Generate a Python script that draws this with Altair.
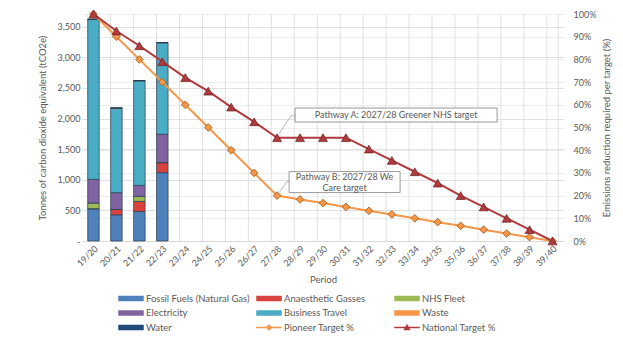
import altair as alt
import pandas as pd

# ---------------- data ----------------
periods = ["19/20", "20/21", "21/22", "22/23", "23/24", "24/25", "25/26", "26/27",
           "27/28", "28/29", "29/30", "30/31", "31/32", "32/33", "33/34", "34/35",
           "35/36", "36/37", "37/38", "38/39", "39/40"]
bar_periods = ["19/20", "20/21", "21/22", "22/23"]

fossil_fuels = [527, 428, 483, 1116]
anaesthetic_gasses = [0, 87, 163, 164]
nhs_fleet = [92, 0, 82, 0]
electricity = [387, 274, 180, 463]
business_travel = [2612, 1380, 1708, 1494]
waste = [3, 3, 3, 3]
water = [2, 2, 2, 2]

pioneer_pct = [100, 90, 80, 70, 60, 50, 40, 30, 20, 18.3, 16.7, 15, 13.3, 11.7,
               10, 8.3, 6.7, 5, 3.3, 1.7, 0]
national_pct = [100, 92.5, 86, 79, 72, 66, 59, 52.5, 45.5, 45.5, 45.5, 45.5, 40.5,
                35.5, 30.5, 25.5, 20, 15, 10, 5, 0]

bar_series = ["Fossil Fuels (Natural Gas)", "Anaesthetic Gasses", "NHS Fleet",
              "Electricity", "Business Travel", "Waste", "Water"]
line_series = ["Pioneer Target %", "National Target %"]
series_names = bar_series + line_series
series_colors = ["#4F81BD", "#D9433F", "#9BBB59", "#8064A2", "#4BACC6", "#F79646",
                 "#1F497D", "#F79646", "#B03A3E"]

annotation_texts = [["Pathway A: 2027/28 Greener NHS target"],
                    ["Pathway B: 2027/28 We", "Care target"]]
annotation_period = "27/28"

# ---------------- tables ----------------
bar_values = [fossil_fuels, anaesthetic_gasses, nhs_fleet, electricity,
              business_travel, waste, water]
bar_rows = []
for k, (name, vals) in enumerate(zip(bar_series, bar_values)):
    for p, v in zip(bar_periods, vals):
        bar_rows.append({"period": p, "series": name, "value": v, "ord": k})
bars_df = pd.DataFrame(bar_rows)

line_rows = []
for name, vals in zip(line_series, [pioneer_pct, national_pct]):
    for p, v in zip(periods, vals):
        line_rows.append({"period": p, "series": name, "pct": v})
lines_df = pd.DataFrame(line_rows)

anchor_idx = periods.index(annotation_period)
ann_df = pd.DataFrame([
    {"period": annotation_period, "pct": national_pct[anchor_idx], "key": "A",
     "label": annotation_texts[0]},
    {"period": annotation_period, "pct": pioneer_pct[anchor_idx], "key": "B",
     "label": annotation_texts[1]},
])
legend_df = pd.DataFrame({"series": series_names, "period": periods[0]})
grid_df = pd.DataFrame({"period": periods})

FONT = "Lato"
GREY = "#595959"

# legend symbol shapes (wide rectangles for bars, line + marker for lines)
bar_sym = "M-2.5,-0.5H2.5V0.5H-2.5Z"
pioneer_sym = "M-2.5,-0.1H2.5V0.1H-2.5Z M0,-0.6L0.6,0L0,0.6L-0.6,0Z"
national_sym = "M-2.5,-0.1H2.5V0.1H-2.5Z M0,-0.65L0.65,0.5L-0.65,0.5Z"
legend_shapes = [bar_sym] * 7 + [pioneer_sym, national_sym]

color_scale = alt.Scale(domain=series_names, range=series_colors)
leg = alt.Legend(title=None, orient="none", legendX=43.5, legendY=279,
                 columns=3, direction="horizontal", gridAlign="all",
                 columnPadding=5, rowPadding=4.5, symbolSize=100,
                 symbolOpacity=1, labelOffset=9.5, labelFont=FONT,
                 labelFontSize=9.5, labelColor=GREY, labelLimit=300,
                 symbolStrokeColor="#3A3A3A", symbolStrokeWidth=0.5)
color_enc = alt.Color("series:N", scale=color_scale, legend=leg)

x_scale = alt.Scale(domain=periods, paddingInner=0.5, paddingOuter=0.25)
x_axis = alt.Axis(title="Period", labelAngle=-45, grid=False, ticks=False,
                  tickSize=0, domainColor="#D9D9D9", labelPadding=3,
                  titlePadding=6)
x_enc = alt.X("period:N", scale=x_scale, axis=x_axis)

# ---------------- vertical grid at band boundaries ----------------
vgrid_start = alt.Chart(grid_df).mark_rule(color="#D9D9D9", strokeWidth=0.8).encode(
    x=alt.X("period:N", scale=x_scale, bandPosition=0, axis=x_axis))
vgrid_end = alt.Chart(grid_df.tail(1)).mark_rule(color="#D9D9D9", strokeWidth=0.8).encode(
    x=alt.X("period:N", scale=x_scale, bandPosition=1, axis=x_axis))

# ---------------- bars (left axis) ----------------
bars = alt.Chart(bars_df).mark_bar(stroke="#2B3A4A", strokeWidth=0.7).encode(
    x=x_enc,
    y=alt.Y("sum(value):Q", stack="zero",
            scale=alt.Scale(domain=[0, 3707], nice=False),
            axis=alt.Axis(title="Tonnes of carbon dioxide equivalent (tCO2e)",
                          values=[0, 500, 1000, 1500, 2000, 2500, 3000, 3500],
                          labelExpr="datum.value == 0 ? '-' : format(datum.value, ',')",
                          grid=True, gridColor="#D9D9D9", gridWidth=0.8,
                          domain=False, ticks=False, tickSize=0, labelPadding=2,
                          titlePadding=10, orient="left")),
    color=color_enc,
    order=alt.Order("ord:Q", sort="ascending"),
)

# ---------------- percent layers (right axis) ----------------
pct_scale = alt.Scale(domain=[0, 100], nice=False)
y_pct = alt.Y("pct:Q", scale=pct_scale,
              axis=alt.Axis(title="Emissions reduction required per target (%)",
                            values=list(range(0, 101, 10)),
                            labelExpr="datum.value + '%'", grid=True,
                            gridColor="#EAEAEA", gridWidth=0.8, domain=False,
                            ticks=False, tickSize=0, labelPadding=9,
                            titlePadding=16, orient="right", titleAngle=270))

lines = alt.Chart(lines_df).mark_line(strokeWidth=2).encode(
    x=x_enc, y=y_pct, color=color_enc, detail="series:N",
)

diamonds = alt.Chart(lines_df).transform_filter(
    alt.datum.series == "Pioneer Target %"
).mark_point(shape="diamond", filled=True, size=60, opacity=1,
             stroke="#8A4A12", strokeWidth=0.7).encode(
    x=x_enc, y=y_pct, color=color_enc,
)

triangles = alt.Chart(lines_df).transform_filter(
    alt.datum.series == "National Target %"
).mark_point(shape="triangle-up", filled=True, size=80, opacity=1,
             stroke="#6B1E1E", strokeWidth=0.7).encode(
    x=x_enc, y=y_pct, color=color_enc,
)

# callout boxes, leaders and texts, anchored at the data points of 27/28
ann_base = alt.Chart(ann_df).encode(x=x_enc, y=y_pct)
# size=4 makes custom path units equal to pixels (offsets from the anchor point)
box_a = ann_base.transform_filter(alt.datum.key == "A").mark_point(
    shape="M18,-29.7H220V-15.7H18Z", size=4, filled=True, fill="white",
    stroke="#7F7F7F", strokeWidth=0.8, opacity=1)
lead_a = ann_base.transform_filter(alt.datum.key == "A").mark_point(
    shape="M2,-4L14,-22L18,-22", size=4, filled=False, stroke="#A6A6A6",
    strokeWidth=0.8, opacity=1)
text_a = ann_base.transform_filter(alt.datum.key == "A").mark_text(
    dx=119, dy=-22.7, align="center", baseline="middle", font=FONT,
    fontSize=9, color=GREY).encode(text="label")

box_b = ann_base.transform_filter(alt.datum.key == "B").mark_point(
    shape="M12,-24H123V-3H12Z", size=4, filled=True, fill="white",
    stroke="#7F7F7F", strokeWidth=0.8, opacity=1)
lead_b = ann_base.transform_filter(alt.datum.key == "B").mark_point(
    shape="M2,-3L10,-14L12,-14", size=4, filled=False, stroke="#A6A6A6",
    strokeWidth=0.8, opacity=1)
text_b = ann_base.transform_filter(alt.datum.key == "B").mark_text(
    dx=67.5, dy=-18.5, align="center", baseline="middle", font=FONT,
    fontSize=9, color=GREY, lineHeight=10.5).encode(text="label")

# legend-shape layer (points drawn fully transparent)
legend_layer = alt.Chart(legend_df).mark_point(filled=True, opacity=0).encode(
    x=x_enc,
    color=color_enc,
    shape=alt.Shape("series:N",
                    scale=alt.Scale(domain=series_names, range=legend_shapes),
                    legend=leg),
)

pct_group = alt.layer(lines, diamonds, triangles, lead_a, box_a, text_a,
                      lead_b, box_b, text_b, legend_layer)

chart = alt.layer(vgrid_start, vgrid_end, bars, pct_group).resolve_scale(
    y="independent").properties(
    width=482, height=227,
    padding={"left": 82, "top": 14, "right": 59, "bottom": 98},
    autosize=alt.AutoSizeParams(type="none"),
    background="white",
).configure_view(stroke=None).configure_axis(
    labelFont=FONT, labelFontSize=9, labelColor=GREY,
    titleFont=FONT, titleFontSize=9.5, titleColor=GREY, titleFontWeight="normal",
)

chart.save("out.html", embed_options={"renderer": "svg", "actions": False})
